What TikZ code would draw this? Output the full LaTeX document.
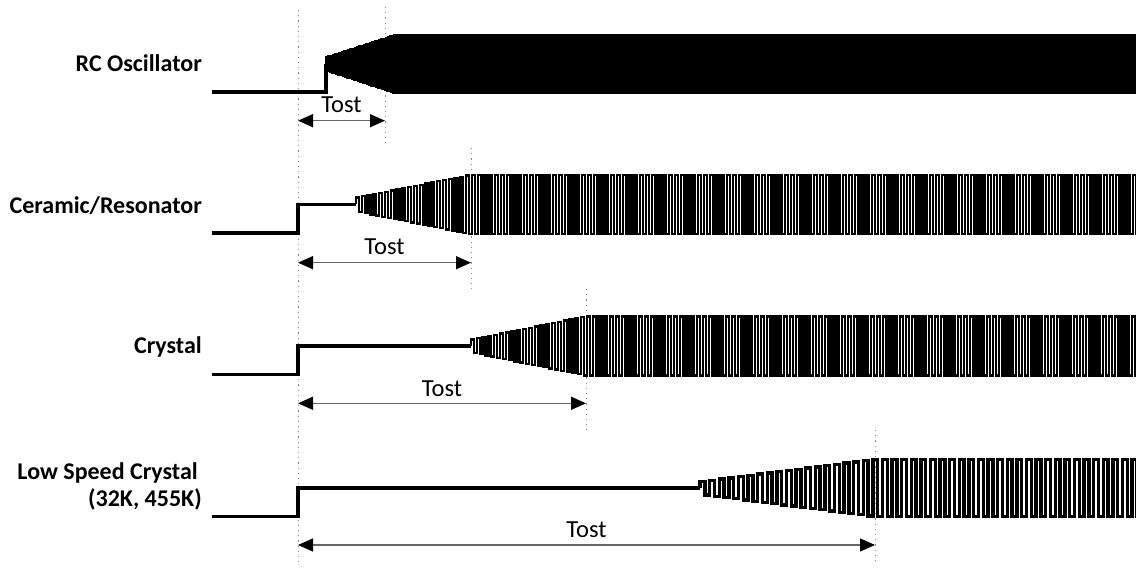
\documentclass[tikz,border=0pt]{standalone}
\usepackage{fontspec}
\setmainfont{Carlito}
\usetikzlibrary{arrows.meta}
\tikzset{
  lead/.style={line width=3.1pt, line join=miter},
  rcwave/.style={line width=1.6pt, line join=miter},
  wavestyle/.style={line width=2.3pt, line join=miter},
  slowwave/.style={line width=3.4pt, line join=miter},
  guide/.style={draw=black!45, line width=0.9pt, dash pattern=on 1.2pt off 4pt},
  tost/.style={draw=black!60, line width=1.3pt,
    {Triangle[length=15pt,width=13pt,color=black]}-{Triangle[length=15pt,width=13pt,color=black]}},
  tostlabel/.style={font=\fontsize{24.5}{28}\selectfont, anchor=base, inner sep=0pt},
  siglabel/.style={font=\fontsize{24}{27}\selectfont\bfseries, anchor=base east, inner sep=0pt, align=right}
}
% #1 style, #2 step x, #3 low y, #4 centre y, #5 osc start x, #6 full amp x, #7 a0, #8 a1, #9 period
\newcommand\sigwave[9]{%
  \pgfmathsetmacro\nmax{int(ceil((1140-#5)/#9))}%
  \draw[lead] (212,#3) -- (#2,#3) -- (#2,#4) -- (#5,#4);
  \draw[#1] (#5,#4)
    \foreach \k [evaluate=\k as \xa using {#5+\k*#9},
                 evaluate=\k as \xb using {#5+(\k+0.5)*#9},
                 evaluate=\k as \aa using {#7+(#8-#7)*min(1,\k*#9/(#6-#5))},
                 evaluate=\k as \ab using {#7+(#8-#7)*min(1,(\k+0.5)*#9/(#6-#5))}] in {0,...,\nmax}
    { -- (\xa,#4-\aa) -- (\xb,#4-\aa) -- (\xb,#4+\ab) -- (\xa+#9,#4+\ab) };
}
\begin{document}
\begin{tikzpicture}[x=1pt,y=-1pt]
\useasboundingbox (0,0) rectangle (1136,569);
\clip (0,0) rectangle (1136,569);
% guide lines
\coordinate (g0a) at (298,10);  \coordinate (g0b) at (298,565);
\coordinate (g1a) at (385,7);   \coordinate (g1b) at (385,147);
\coordinate (g2a) at (471,148); \coordinate (g2b) at (471,289);
\coordinate (g3a) at (586,289); \coordinate (g3b) at (586,430);
\coordinate (g4a) at (875,430); \coordinate (g4b) at (875,565);
\draw[guide] (g0a) -- (g0b);
\draw[guide] (g1a) -- (g1b);
\draw[guide] (g2a) -- (g2b);
\draw[guide] (g3a) -- (g3b);
\draw[guide] (g4a) -- (g4b);
% labels
\node[siglabel] (l1) at (202,71.5) {RC Oscillator};
\node[siglabel] (l2) at (202,214) {Ceramic/Resonator};
\node[siglabel] (l3) at (202,354) {Crystal};
\node[siglabel] (l4) at (198,479) {Low Speed Crystal};
\node[siglabel] (l5) at (202,506) {(32K, 455K)};
% signals
\sigwave{rcwave}{326}{92}{64}{326}{395}{7}{29.5}{2.2}
\sigwave{wavestyle}{298}{233}{204.5}{356}{469}{7}{29.5}{5.8}
\sigwave{wavestyle}{298}{374.5}{346}{471}{584}{6.5}{29.5}{5.8}
\sigwave{slowwave}{298}{516.5}{488}{700}{873}{6.5}{28.5}{9.6}
% Tost arrows
\coordinate (t1a) at (298,120.7); \coordinate (t1b) at (385,120.7);
\coordinate (t2a) at (298,262.7); \coordinate (t2b) at (471,262.7);
\coordinate (t3a) at (298,403.3); \coordinate (t3b) at (586,403.3);
\coordinate (t4a) at (298,545);   \coordinate (t4b) at (875,545);
\draw[tost] (t1a) -- (t1b);
\draw[tost] (t2a) -- (t2b);
\draw[tost] (t3a) -- (t3b);
\draw[tost] (t4a) -- (t4b);
\node[tostlabel] (n1) at (341.5,113) {Tost};
\node[tostlabel] (n2) at (384.5,255) {Tost};
\node[tostlabel] (n3) at (442,396) {Tost};
\node[tostlabel] (n4) at (586.5,537.5) {Tost};
\end{tikzpicture}
\end{document}
